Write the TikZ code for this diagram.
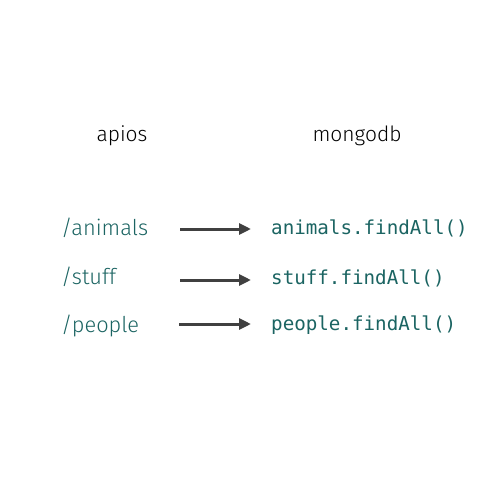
\documentclass[tikz,border=0pt]{standalone}
\usepackage{fontspec}
\setmainfont{Fira Sans Light}
\setmonofont{DejaVu Sans Mono}
\usetikzlibrary{arrows.meta}
\definecolor{teal1}{HTML}{1B6462}
\definecolor{arr}{HTML}{404040}
\tikzset{
  head/.style={font=\fontsize{21}{25}\selectfont, text=black, inner sep=0pt},
  route/.style={font=\fontsize{21.8}{26}\selectfont, text=teal1, inner sep=0pt, anchor=west},
  code/.style={font=\ttfamily\fontsize{19.2}{23}\selectfont, text=teal1, inner sep=0pt, anchor=west},
  conn/.style={draw=arr, line width=3pt, -{Triangle[length=12pt,width=11pt]}}
}
\begin{document}
\begin{tikzpicture}[x=1pt,y=-1pt]
\useasboundingbox (0,0) rectangle (500,500);
\node[head] (h1) at (122,136) {apios};
\node[head] (h2) at (357,136) {mongodb};
\node[route] (r1) at (61,228) {/animals};
\node[route] (r2) at (61,277) {/stuff};
\node[route] (r3) at (61,326) {/people};
\node[code] (c1) at (271,228) {animals.findAll()};
\node[code] (c2) at (271,278) {stuff.findAll()};
\node[code] (c3) at (271,325) {people.findAll()};
\coordinate (a1s) at (180,229); \coordinate (a1e) at (251,229);
\coordinate (a2s) at (180,280); \coordinate (a2e) at (251,280);
\coordinate (a3s) at (179,324); \coordinate (a3e) at (251,324);
\draw[conn] (a1s) -- (a1e);
\draw[conn] (a2s) -- (a2e);
\draw[conn] (a3s) -- (a3e);
\end{tikzpicture}
\end{document}
